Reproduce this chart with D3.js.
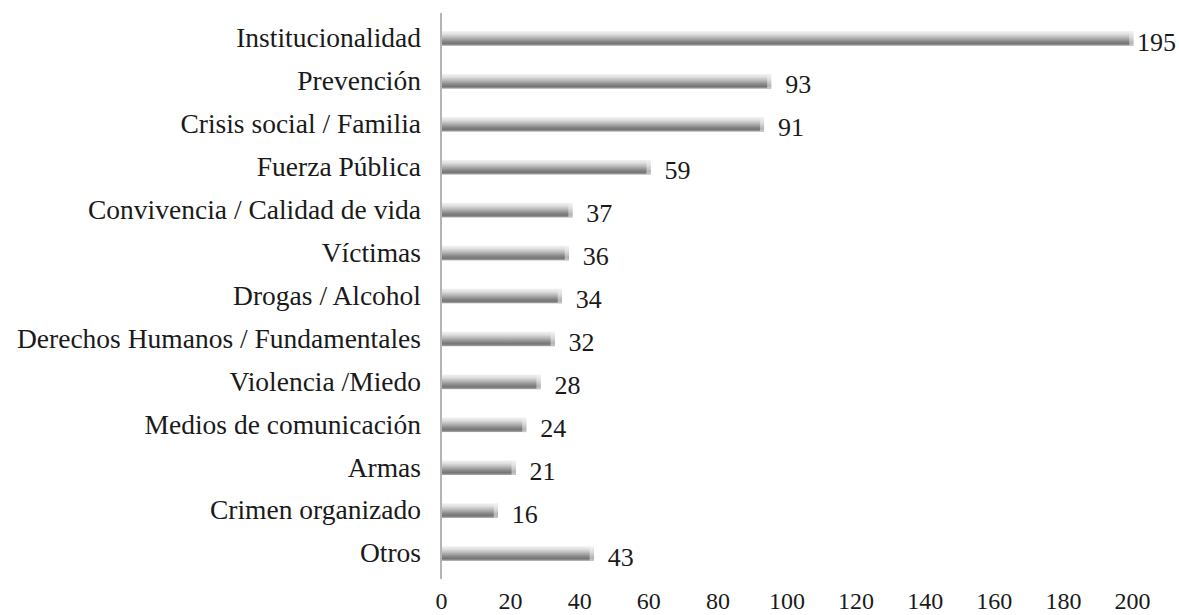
<!DOCTYPE html>
<html><head><meta charset="utf-8">
<script src="https://cdn.jsdelivr.net/npm/d3@7"></script>
<style>html,body{margin:0;padding:0;background:#fff;}svg{display:block;}</style>
</head><body>
<svg id="chart" width="1179" height="615"></svg>
<script>
const categories = ["Institucionalidad","Prevención","Crisis social / Familia","Fuerza Pública","Convivencia / Calidad de vida","Víctimas","Drogas / Alcohol","Derechos Humanos / Fundamentales","Violencia /Miedo","Medios de comunicación","Armas","Crimen organizado","Otros"];
const values = [195,93,91,59,37,36,34,32,28,24,21,16,43];
const tickValues = [0,20,40,60,80,100,120,140,160,180,200];

const svg = d3.select("#chart");
const FONT = "'Liberation Serif','Times New Roman',serif";
const x0 = 441;
const x = d3.scaleLinear().domain([0,200]).range([x0, x0 + 710]);
const xAxisScale = d3.scaleLinear().domain([0,200]).range([x0, 1132]);
const y = d3.scaleBand().domain(categories).range([17,575]).paddingInner(0.66).paddingOuter(0.33);

const defs = svg.append("defs");
const g = defs.append("linearGradient").attr("id","barGrad").attr("x1",0).attr("y1",0).attr("x2",0).attr("y2",1);
[[0,"#f2f2f2"],[0.2,"#e0e0e0"],[0.45,"#b6b6b6"],[0.7,"#888888"],[0.85,"#747474"],[1,"#a8a8a8"]].forEach(([o,c])=>g.append("stop").attr("offset",o).attr("stop-color",c));
const gc = defs.append("linearGradient").attr("id","capGrad").attr("x1",0).attr("y1",0).attr("x2",0).attr("y2",1);
[[0,"#f4f4f4"],[0.4,"#dcdcdc"],[0.8,"#b4b4b4"],[1,"#cccccc"]].forEach(([o,c])=>gc.append("stop").attr("offset",o).attr("stop-color",c));

const data = categories.map((c,i)=>({c, v: values[i]}));

// bars
svg.append("g").selectAll("rect.bar").data(data).join("rect")
  .attr("class","bar")
  .attr("x", x(0)).attr("y", d=>y(d.c))
  .attr("width", d=>x(d.v)-x(0)).attr("height", y.bandwidth())
  .attr("fill","url(#barGrad)");
svg.append("g").selectAll("rect.cap").data(data).join("rect")
  .attr("class","cap")
  .attr("x", d=>x(d.v)-4).attr("y", d=>y(d.c))
  .attr("width", 4).attr("height", y.bandwidth())
  .attr("fill","url(#capGrad)");

// vertical axis line
svg.append("line").attr("x1",x0).attr("x2",x0).attr("y1",13).attr("y2",579)
  .attr("stroke","#b4b4b4").attr("stroke-width",2);

// category labels
const yAxis = d3.axisLeft(y).tickSize(0).tickPadding(0);
const ya = svg.append("g").attr("transform",`translate(${x0-20},0)`).call(yAxis);
ya.select(".domain").remove();
ya.selectAll("text").attr("font-family",FONT)
  .attr("font-size",27.5).attr("fill","#1a1a1a").attr("dy","0.32em");

// value labels
svg.append("g").selectAll("text").data(data).join("text")
  .attr("x", d=>Math.min(x(d.v)+14, 1137))
  .attr("y", d=>y(d.c)+y.bandwidth()/2+3)
  .attr("dy","0.35em")
  .attr("font-family",FONT)
  .attr("font-size",26).attr("fill","#1a1a1a")
  .text(d=>d.v);

// x axis labels
const xAxis = d3.axisBottom(xAxisScale).tickValues(tickValues).tickSize(0).tickPadding(0);
const xa = svg.append("g").attr("transform","translate(0,601)").call(xAxis);
xa.select(".domain").remove();
xa.selectAll("text").attr("font-family",FONT)
  .attr("font-size",24).attr("fill","#1a1a1a").attr("dy","0.35em");
</script>
</body></html>
